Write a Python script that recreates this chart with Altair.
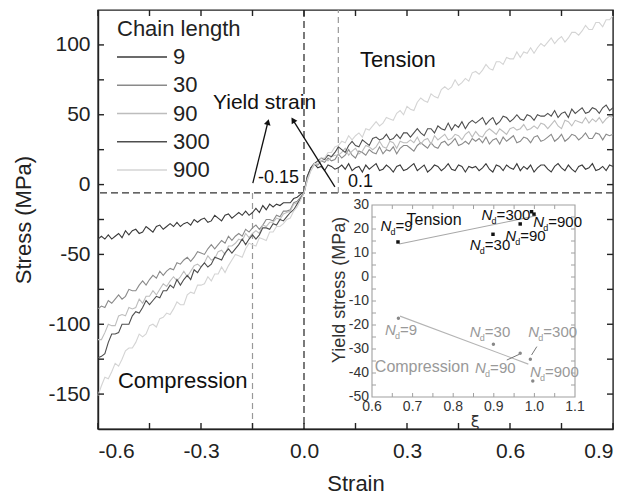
import altair as alt
import pandas as pd

# ---------------- main stress-strain data ----------------
# strain sampling grid (-0.60 ... 0.90, step 0.01)
STRAIN = [round(-0.60 + 0.01 * i, 2) for i in range(151)]
CHAINS = ["9", "30", "90", "300", "900"]
COLORS = ["#3a3a3a", "#8a8a8a", "#bdbdbd", "#4e4e4e", "#d4d4d4"]

C9 = [
    -39, -37, -39, -36, -39, -37, -35, -38, -33, -36,
    -33, -32, -35, -34, -30, -32, -34, -30, -29, -32,
    -30, -28, -30, -27, -30, -28, -27, -29, -25, -27,
    -25, -24, -27, -26, -22, -24, -26, -22, -21, -24,
    -22, -20, -22, -19, -22, -20, -17, -20, -15, -18,
    -14, -16, -14, -15, -13, -13, -13, -10, -9, -7,
    -5, 6, 12, 15, 12, 13, 10, 14, 13, 11,
    12, 14, 11, 15, 10, 12, 13, 9, 14, 11, 13, 15, 10, 11, 14, 12, 9, 13, 14, 10,
    11, 13, 15, 10, 12, 14, 9, 11, 14, 13, 10, 12, 15, 11, 10, 14, 13, 9, 13, 12,
    13, 10, 12, 15, 11, 9, 14, 13, 10, 14, 12, 11, 15, 10, 13, 11, 14, 9, 12, 14,
    14, 11, 9, 13, 15, 12, 10, 14, 11, 9, 13, 14, 11, 12, 15, 10, 11, 13, 10, 14,
    13]
C30 = [
    -89, -87, -88, -83, -85, -82, -79, -82, -80, -75,
    -76, -76, -72, -69, -72, -68, -65, -67, -62, -65,
    -62, -60, -61, -56, -57, -54, -52, -55, -52, -48,
    -49, -50, -46, -43, -46, -43, -40, -42, -37, -40,
    -37, -35, -37, -32, -34, -31, -29, -32, -29, -25,
    -25, -26, -22, -23, -19, -19, -18, -13, -12, -9,
    -6, 5, 12, 15, 14, 17, 16, 19, 17, 18,
    22, 19, 21, 25, 21, 19, 24, 23, 21, 25, 23, 22, 27, 22, 25, 24, 27, 22, 26, 28,
    28, 26, 24, 28, 30, 28, 26, 30, 27, 26, 30, 31, 28, 30, 33, 28, 29, 31, 29, 33,
    31, 33, 30, 34, 29, 32, 33, 29, 34, 31, 33, 35, 30, 31, 34, 33, 30, 34, 35, 31,
    32, 34, 36, 31, 33, 36, 31, 33, 36, 35, 32, 34, 37, 33, 33, 37, 36, 32, 36, 35,
    36]
C90 = [
    -111, -111, -106, -100, -101, -101, -94, -93, -94, -88,
    -89, -88, -82, -85, -80, -80, -76, -79, -75, -71,
    -73, -69, -66, -69, -66, -62, -66, -62, -58, -57,
    -59, -56, -51, -54, -53, -48, -47, -50, -44, -44,
    -42, -39, -40, -35, -38, -35, -33, -35, -29, -30,
    -27, -27, -24, -25, -21, -20, -19, -14, -13, -10,
    -6, 3, 10, 14, 15, 17, 18, 17, 20, 21,
    21, 23, 26, 21, 24, 26, 22, 24, 28, 27, 25, 27, 31, 27, 26, 31, 30, 26, 31, 30,
    30, 32, 30, 34, 29, 32, 33, 29, 35, 32, 34, 36, 32, 33, 36, 35, 32, 36, 38, 34,
    38, 35, 34, 38, 40, 38, 36, 40, 38, 36, 40, 41, 39, 40, 43, 39, 40, 42, 40, 44,
    43, 40, 43, 46, 42, 40, 46, 45, 42, 46, 45, 44, 48, 44, 47, 45, 48, 44, 47, 49,
    48]
C300 = [
    -124, -123, -121, -113, -107, -107, -106, -100, -100, -100,
    -94, -91, -92, -88, -83, -86, -83, -80, -81, -76,
    -76, -72, -74, -68, -72, -68, -65, -68, -61, -63,
    -59, -56, -59, -57, -52, -53, -54, -49, -46, -49,
    -46, -43, -39, -43, -39, -36, -39, -36, -31, -31,
    -32, -28, -29, -25, -26, -23, -20, -18, -14, -10,
    -6, 6, 12, 15, 17, 19, 18, 21, 20, 23,
    27, 25, 23, 28, 31, 28, 27, 32, 30, 28, 33, 34, 32, 33, 36, 32, 33, 36, 33, 37,
    37, 34, 37, 40, 37, 35, 40, 40, 37, 42, 40, 39, 44, 39, 43, 41, 45, 40, 44, 46,
    44, 46, 48, 43, 46, 48, 43, 45, 49, 48, 45, 47, 50, 47, 46, 50, 49, 46, 50, 49,
    49, 51, 49, 53, 48, 51, 52, 48, 54, 51, 53, 55, 51, 52, 55, 54, 51, 55, 57, 53,
    55]
C900 = [
    -151, -144, -138, -139, -134, -128, -130, -125, -119, -117,
    -117, -113, -107, -109, -107, -101, -100, -102, -96, -95,
    -92, -93, -89, -84, -86, -86, -79, -77, -78, -72,
    -72, -71, -66, -69, -64, -64, -59, -63, -58, -54,
    -50, -51, -52, -46, -42, -43, -44, -38, -39, -40,
    -34, -34, -30, -30, -28, -25, -24, -19, -16, -11,
    -6, 4, 10, 15, 15, 19, 19, 23, 23, 27,
    28, 31, 30, 35, 32, 35, 37, 34, 40, 39, 42, 45, 42, 44, 48, 47, 46, 51, 53, 50,
    56, 54, 53, 59, 62, 60, 59, 65, 63, 62, 68, 70, 68, 70, 75, 71, 73, 76, 74, 80,
    81, 79, 82, 86, 83, 82, 88, 88, 86, 91, 90, 90, 95, 91, 95, 94, 98, 94, 98, 101,
    99, 102, 105, 101, 104, 106, 102, 105, 109, 109, 107, 110, 114, 111, 111, 116, 116, 113, 118, 118,
    121]
SERIES = [C9, C30, C90, C300, C900]

X_LABELS = [-0.6, -0.3, 0.0, 0.3, 0.6, 0.9]
X_TICKS = [-0.6, -0.45, -0.3, -0.15, 0.0, 0.15, 0.3, 0.45, 0.6, 0.75, 0.9]
Y_LABELS = [-150, -100, -50, 0, 50, 100]
Y_TICKS = [-150, -125, -100, -75, -50, -25, 0, 25, 50, 75, 100]

YIELD_LINE = -6            # horizontal dashed line (MPa)
YIELD_STRAINS = [-0.15, 0.10]

# ---------------- inset data (yield stress vs xi) ----------------
IN_XI_T = [0.664, 0.898, 0.965, 0.993, 0.999]
IN_Y_T = [14.6, 17.8, 22.1, 27.2, 26.2]
IN_XI_C = [0.665, 0.899, 0.965, 0.990, 0.996]
IN_Y_C = [-17.2, -28.0, -31.8, -34.3, -43.3]
FIT_T = ([0.667, 1.005], [13.75, 25.5])
FIT_C = ([0.669, 0.985], [-16.3, -36.3])
IX_LABELS = [0.6, 0.7, 0.8, 0.9, 1.0, 1.1]
IX_TICKS = [0.65, 0.7, 0.75, 0.8, 0.85, 0.9, 0.95, 1.0, 1.05]
IY_LABELS = [30, 20, 10, 0, -10, -20, -30, -40, -50]
IY_TICKS = [25, 20, 15, 10, 5, 0, -5, -10, -15, -20, -25, -30, -35, -40, -45]

FONT = "Liberation Sans"
NARROW = "Liberation Sans Narrow, Liberation Sans"

# ---------------- build tables ----------------
rows = []
for ch, vals in zip(CHAINS, SERIES):
    for s, v in zip(STRAIN, vals):
        rows.append({"strain": s, "stress": v, "chain": ch})
curves = pd.DataFrame(rows)

xs = alt.Scale(domain=[-0.6, 0.9], nice=False, zero=False)
ys = alt.Scale(domain=[-175, 125], nice=False, zero=False)

xaxis = alt.Axis(values=X_LABELS, tickSize=0, grid=False, labelPadding=11,
                 labelExpr="(datum.value < 0 ? '-' : '') + format(abs(datum.value), '.1f')",
                 title="Strain", titlePadding=12, labelFontSize=21, titleFontSize=22,
                 labelFont=FONT, titleFont=FONT, titleFontWeight="normal",
                 labelColor="#222", titleColor="#222", domainColor="#222", domainWidth=1.4)
yaxis = alt.Axis(values=Y_LABELS, tickSize=0, grid=False, labelPadding=8,
                 labelExpr="(datum.value < 0 ? '-' : '') + format(abs(datum.value), 'd')",
                 title="Stress (MPa)", titlePadding=12, labelFontSize=21, titleFontSize=22,
                 labelFont=FONT, titleFont=FONT, titleFontWeight="normal",
                 labelColor="#222", titleColor="#222", domainColor="#222", domainWidth=1.4)


def MX(f="strain"):
    return alt.X(f"{f}:Q", scale=xs, axis=xaxis)


def MY(f="stress"):
    return alt.Y(f"{f}:Q", scale=ys, axis=yaxis)


chain_color = alt.Color("chain:N", sort=CHAINS,
                        scale=alt.Scale(domain=CHAINS, range=COLORS), legend=None)

lines = alt.Chart(curves).mark_line(strokeWidth=1.1).encode(x=MX(), y=MY(), color=chain_color)

hline = alt.Chart(pd.DataFrame({"stress": [YIELD_LINE]})).mark_rule(
    color="#333", strokeDash=[7, 4], strokeWidth=1.3).encode(y=MY())
vline0 = alt.Chart(pd.DataFrame({"strain": [0.0]})).mark_rule(
    color="#333", strokeDash=[7, 4], strokeWidth=1.3).encode(x=MX())
gl = pd.DataFrame({"strain": YIELD_STRAINS, "stress": [YIELD_LINE, YIELD_LINE],
                   "stress2": [-175, 125]})
vgrey = alt.Chart(gl).mark_rule(color="#999", strokeDash=[6, 4], strokeWidth=1.2).encode(
    x=MX(), y=MY(), y2="stress2:Q")

# inward ticks of the main frame
tx = pd.DataFrame({"strain": X_TICKS})
ty = pd.DataFrame({"stress": Y_TICKS})
tick_style = dict(color="#222", strokeWidth=1.4)
t_bottom = alt.Chart(tx).mark_rule(**tick_style).encode(x=MX(), y=alt.value(419), y2=alt.value(413))
t_top = alt.Chart(tx).mark_rule(**tick_style).encode(x=MX(), y=alt.value(0), y2=alt.value(6))
t_left = alt.Chart(ty).mark_rule(**tick_style).encode(y=MY(), x=alt.value(0), x2=alt.value(6))
t_right = alt.Chart(ty).mark_rule(**tick_style).encode(y=MY(), x=alt.value(515), x2=alt.value(509))

# annotations in data coordinates
big = pd.DataFrame({"strain": [0.163, -0.542], "stress": [89.2, -140.4],
                    "label": ["Tension", "Compression"]})
big_t = alt.Chart(big).mark_text(align="left", baseline="middle", fontSize=22, font=FONT,
                                 color="#111").encode(x=MX(), y=MY(), text="label:N")
ys_txt = alt.Chart(pd.DataFrame({"strain": [-0.265], "stress": [58.4], "label": ["Yield strain"]})
                   ).mark_text(align="left", baseline="middle", fontSize=21, font=FONT,
                               color="#111").encode(x=MX(), y=MY(), text="label:N")
small = pd.DataFrame({"strain": [-0.134, 0.128], "stress": [5.0, 2.0], "label": ["-0.15", "0.1"]})
small_t = alt.Chart(small).mark_text(align="left", baseline="middle", fontSize=18, font=FONT,
                                     color="#111").encode(x=MX(), y=MY(), text="label:N")

arrows = pd.DataFrame({"strain": [-0.149, 0.090], "stress": [1.1, -1.7],
                       "strain2": [-0.105, -0.032], "stress2": [44.8, 46.2]})
arrow_l = alt.Chart(arrows).mark_rule(color="#111", strokeWidth=1.3).encode(
    x=MX(), y=MY(), x2="strain2:Q", y2="stress2:Q")
head1 = alt.Chart(arrows.iloc[[0]]).mark_point(shape="triangle-up", filled=True, size=45,
                                               color="#111", angle=14, opacity=1).encode(
    x=MX("strain2"), y=MY("stress2"))
head2 = alt.Chart(arrows.iloc[[1]]).mark_point(shape="triangle-up", filled=True, size=45,
                                               color="#111", angle=328, opacity=1).encode(
    x=MX("strain2"), y=MY("stress2"))

main = alt.layer(hline, vline0, vgrey, lines, t_bottom, t_top, t_left, t_right,
                 big_t, ys_txt, small_t, arrow_l, head1, head2)

# ---------------- legend (drawn as marks) ----------------
leg_df = pd.DataFrame({"chain": CHAINS})
leg_y = alt.Y("chain:N", sort=CHAINS, axis=None,
              scale=alt.Scale(type="point", domain=CHAINS, range=[47, 160], padding=0))
leg_lines = alt.Chart(leg_df).mark_rule(strokeWidth=1.3).encode(
    y=leg_y, x=alt.value(19), x2=alt.value(69), color=chain_color)
leg_text = alt.Chart(leg_df).mark_text(align="left", baseline="middle", fontSize=22, font=FONT,
                                       color="#222").encode(y=leg_y, x=alt.value(75),
                                                            text="chain:N")
leg_title = alt.Chart(pd.DataFrame({"label": ["Chain length"]})).mark_text(
    align="left", baseline="middle", fontSize=22, font=FONT, color="#222").encode(
    x=alt.value(19), y=alt.value(19), text="label:N")
legend = alt.layer(leg_lines, leg_text, leg_title)

# ---------------- inset ----------------
ixs = alt.Scale(domain=[0.6, 1.1], range=[274, 477], nice=False, zero=False)
iys = alt.Scale(domain=[-50, 30], range=[387, 195], nice=False, zero=False)


def IX(f="xi"):
    return alt.X(f"{f}:Q", scale=ixs, axis=None)


def IY(f="ys"):
    return alt.Y(f"{f}:Q", scale=iys, axis=None)


frame = alt.Chart(pd.DataFrame({"xi": [0.6], "xi2": [1.1], "ys": [-50], "ys2": [30]})).mark_rect(
    fillOpacity=0, stroke="#a0a0a0", strokeWidth=1.1).encode(x=IX(), x2="xi2:Q", y=IY(), y2="ys2:Q")
itick = dict(color="#a0a0a0", strokeWidth=1)
ixt = pd.DataFrame({"xi": IX_TICKS})
iyt = pd.DataFrame({"ys": IY_TICKS})
it_b = alt.Chart(ixt).mark_rule(**itick).encode(x=IX(), y=alt.value(387), y2=alt.value(383))
it_t = alt.Chart(ixt).mark_rule(**itick).encode(x=IX(), y=alt.value(195), y2=alt.value(199))
it_l = alt.Chart(iyt).mark_rule(**itick).encode(y=IY(), x=alt.value(274), x2=alt.value(278))
it_r = alt.Chart(iyt).mark_rule(**itick).encode(y=IY(), x=alt.value(477), x2=alt.value(473))

iyl = pd.DataFrame({"ys": IY_LABELS, "label": [str(v) for v in IY_LABELS]})
ixl = pd.DataFrame({"xi": IX_LABELS, "label": [f"{v:.1f}" for v in IX_LABELS]})
iy_lab = alt.Chart(iyl).mark_text(align="right", baseline="middle", dx=-3, fontSize=14,
                                  font=NARROW, color="#333").encode(
    y=IY(), x=alt.value(274), text="label:N")
ix_lab = alt.Chart(ixl).mark_text(align="center", baseline="middle", dy=10, fontSize=14,
                                  font=NARROW, color="#333").encode(
    x=IX(), y=alt.value(387), text="label:N")
ititle = alt.Chart(pd.DataFrame({"xi": [0.521], "ys": [-5.4], "label": ["Yield stress (MPa)"]})
                   ).mark_text(angle=270, align="center", baseline="middle", fontSize=18,
                               font=FONT, color="#333").encode(x=IX(), y=IY(), text="label:N")
ixi = alt.Chart(pd.DataFrame({"xi": [0.854], "ys": [-60.4], "label": ["ξ"]})).mark_text(
    align="center", baseline="middle", fontSize=16, font="DejaVu Sans", color="#333").encode(
    x=IX(), y=IY(), text="label:N")

pts_t = alt.Chart(pd.DataFrame({"xi": IN_XI_T, "ys": IN_Y_T})).mark_square(
    size=12, color="#111", opacity=1).encode(x=IX(), y=IY())
pts_c = alt.Chart(pd.DataFrame({"xi": IN_XI_C, "ys": IN_Y_C})).mark_circle(
    size=12, color="#888", opacity=1).encode(x=IX(), y=IY())
fit_t = alt.Chart(pd.DataFrame({"xi": FIT_T[0], "ys": FIT_T[1]})).mark_line(
    color="#a8a8a8", strokeWidth=1.1).encode(x=IX(), y=IY())
fit_c = alt.Chart(pd.DataFrame({"xi": FIT_C[0], "ys": FIT_C[1]})).mark_line(
    color="#b4b4b4", strokeWidth=1.1).encode(x=IX(), y=IY())
conn = alt.Chart(pd.DataFrame({"xi": [0.932, 1.006], "ys": [-34.6, -29.0],
                               "xi2": [0.963, 0.993], "ys2": [-32.2, -32.5]})).mark_rule(
    color="#777", strokeWidth=1).encode(x=IX(), y=IY(), x2="xi2:Q", y2="ys2:Q")

itext = pd.DataFrame({
    "xi": [0.685, 0.607], "ys": [23.75, -37.4], "label": ["Tension", "Compression"],
    "grp": ["T", "C"]})
grp_color = alt.Color("grp:N", scale=alt.Scale(domain=["T", "C"], range=["#111", "#999"]),
                      legend=None)
itext_m = alt.Chart(itext).mark_text(align="left", baseline="middle", fontSize=16,
                                     font=FONT).encode(x=IX(), y=IY(), text="label:N",
                                                       color=grp_color)

nlab = pd.DataFrame({
    "xi": [0.621, 0.841, 0.928, 0.870, 0.997, 0.632, 0.841, 0.854, 0.985, 0.989],
    "ys": [21.4, 13.3, 17.2, 25.8, 23.0, -22.1, -22.8, -38.0, -23.0, -39.5],
    "eq": ["=9", "=30", "=90", "=300", "=900", "=9", "=30", "=90", "=300", "=900"],
    "grp": ["T"] * 5 + ["C"] * 5})
n_N = alt.Chart(nlab).mark_text(align="left", baseline="middle", fontSize=15, font=FONT,
                                fontStyle="italic", text="N").encode(
    x=IX(), y=IY(), color=grp_color)
n_d = alt.Chart(nlab).mark_text(align="left", baseline="middle", fontSize=9, font=FONT,
                                dx=10, dy=6, text="d").encode(x=IX(), y=IY(), color=grp_color)
n_eq = alt.Chart(nlab).mark_text(align="left", baseline="middle", fontSize=15, font=NARROW,
                                 dx=15).encode(x=IX(), y=IY(), text="eq:N", color=grp_color)

inset = alt.layer(frame, it_b, it_t, it_l, it_r, iy_lab, ix_lab, ititle, ixi,
                  fit_t, fit_c, conn, pts_t, pts_c, itext_m, n_N, n_d, n_eq)

chart = alt.layer(main, inset, legend).resolve_scale(
    x="independent", y="independent", color="independent"
).properties(
    width=515, height=419,
    padding={"left": 98, "top": 10, "right": 28, "bottom": 69},
    autosize=alt.AutoSizeParams(type="none"),
    background="white",
).configure_view(stroke="#222", strokeWidth=1.4)

chart.save("out.html", embed_options={"renderer": "svg", "actions": False})
